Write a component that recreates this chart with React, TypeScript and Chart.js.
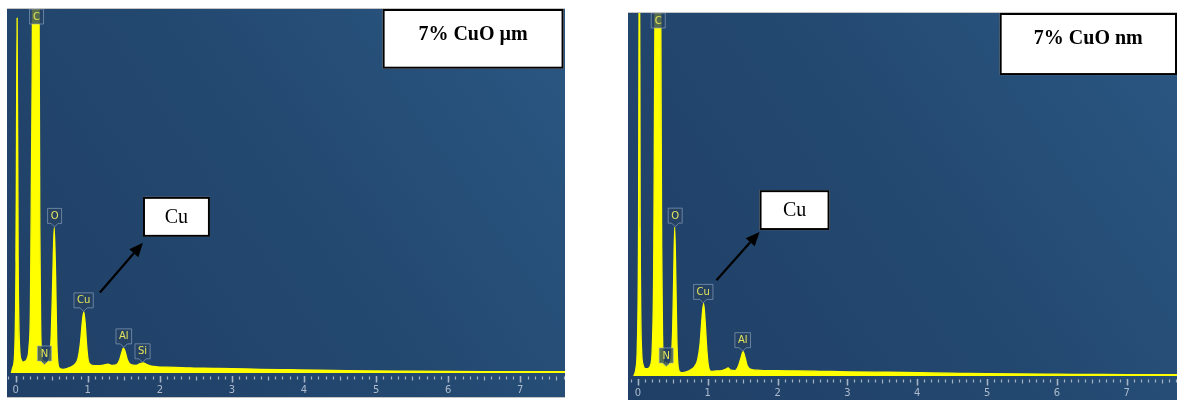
import { useEffect, useRef } from "react";
import { Chart, registerables } from "chart.js";

Chart.register(...registerables);

// ---- EDS spectrum, 7% CuO (micro-sized filler) ----
// energy in keV, intensity in relative counts (100 = full scale)
const energyMicro = [
  -0.06, -0.04, -0.015, 0.005, 0.02, 0.035, 0.055, 0.08, 0.1, 0.13, 0.16, 0.185, 0.205, 0.225,
  0.24, 0.28, 0.32, 0.335, 0.348, 0.362, 0.38, 0.39, 0.4, 0.41, 0.425, 0.45, 0.475, 0.495, 0.515,
  0.535, 0.555, 0.57, 0.585, 0.61, 0.66, 0.72, 0.78, 0.83, 0.865, 0.9, 0.925, 0.945, 0.965, 0.985,
  1.01, 1.05, 1.12, 1.2, 1.28, 1.34, 1.4, 1.44, 1.47, 1.495, 1.52, 1.55, 1.6, 1.67, 1.73, 1.77,
  1.81, 1.88, 1.96, 2.1, 2.3, 2.6, 3.0, 3.4, 3.8, 4.2, 4.6, 5.0, 5.5, 6.0, 6.5, 7.0, 7.62,
];
const countsMicro = [
  0, 1.5, 5, 30, 97.5, 30, 7, 3.5, 3, 3.2, 4, 7, 18, 70,
  130, 600, 130, 40, 12, 4.5, 2.2, 3.4, 2.0, 3.2, 2.6, 3.2, 5, 11, 26,
  40, 26, 9, 3, 1.3, 1.0, 1.3, 1.8, 2.6, 4, 8.5, 14, 16.8, 13.5, 7.5,
  3.2, 2.2, 2.0, 2.1, 2.4, 2.1, 2.3, 3.5, 5.5, 6.9, 5.8, 3.6, 2.3, 2.1, 2.6, 2.8,
  2.4, 1.9, 1.7, 1.6, 1.5, 1.3, 1.2, 1.0, 0.9, 0.8, 0.65, 0.55, 0.5, 0.45, 0.4, 0.35, 0.35,
];
const peakNamesMicro = ["C", "N", "O", "Cu", "Al", "Si"];
const peakEnergyMicro = [0.29, 0.4, 0.54, 0.943, 1.5, 1.76];
const peakCountsMicro = [600, 2.2, 40, 16.8, 6.9, 2.8];

// ---- EDS spectrum, 7% CuO (nano-sized filler) ----
const energyNano = [
  -0.06, -0.03, -0.01, 0.008, 0.02, 0.032, 0.05, 0.075, 0.1, 0.14, 0.18, 0.205, 0.225, 0.245,
  0.287, 0.325, 0.34, 0.352, 0.365, 0.38, 0.393, 0.405, 0.418, 0.432, 0.455, 0.48, 0.497, 0.512,
  0.526, 0.542, 0.557, 0.572, 0.6, 0.64, 0.7, 0.76, 0.81, 0.855, 0.89, 0.915, 0.94, 0.962, 0.985,
  1.01, 1.05, 1.12, 1.2, 1.26, 1.29, 1.33, 1.39, 1.44, 1.475, 1.505, 1.535, 1.565, 1.62, 1.7, 1.8,
  2.0, 2.3, 2.6, 3.0, 3.4, 3.8, 4.2, 4.6, 5.0, 5.5, 6.0, 6.5, 7.0, 7.72,
];
const countsNano = [
  0, 2, 8, 40, 130, 40, 8, 3, 2, 2, 3, 8, 30, 110,
  600, 110, 35, 11, 4, 2.6, 3.8, 2.2, 3.6, 2.8, 3.5, 6, 13, 28,
  41, 27, 10, 3.2, 1.1, 0.9, 1.2, 1.8, 2.6, 4.5, 9, 15.5, 20, 15, 7.5,
  2.6, 1.3, 1.4, 1.5, 1.9, 2.2, 1.6, 1.5, 2.8, 5, 6.7, 5, 2.8, 1.8, 1.6, 1.5,
  1.45, 1.4, 1.3, 1.15, 1.05, 1.0, 0.85, 0.75, 0.65, 0.55, 0.5, 0.45, 0.4, 0.35,
];
const peakNamesNano = ["C", "N", "O", "Cu", "Al"];
const peakEnergyNano = [0.29, 0.404, 0.533, 0.935, 1.5];
const peakCountsNano = [600, 2.5, 41, 20, 6.7];

// energy axis labels (keV)
const energyTicks = [0, 1, 2, 3, 4, 5, 6, 7];

const SERIF = "'Liberation Serif', 'Times New Roman', serif";
const SANS = "'DejaVu Sans', Verdana, sans-serif";

type Box = { x0: number; x1: number; y0: number; y1: number };
type Notes = {
  title: string;
  titleBox: Box;
  calloutBox: Box;
  callout: string;
  arrowFrom: [number, number];
  arrowTo: [number, number];
};

type PanelProps = {
  energy: number[];
  counts: number[];
  peakNames: string[];
  peakEnergy: number[];
  peakCounts: number[];
  xMin: number;
  xMax: number;
  left: number;
  top: number;
  width: number;
  height: number;
  notes: Notes;
};

function Panel(p: PanelProps) {
  const ref = useRef<HTMLCanvasElement>(null);

  useEffect(() => {
    const canvas = ref.current!;

    const background = {
      id: "background",
      beforeDraw(chart: any) {
        const { ctx, width, height } = chart;
        const g = ctx.createLinearGradient(0, height, width, 0);
        g.addColorStop(0, "#203f66");
        g.addColorStop(0.5, "#234870");
        g.addColorStop(1, "#2a5782");
        ctx.save();
        ctx.fillStyle = g;
        ctx.fillRect(0, 0, width, height);
        ctx.restore();
      },
    };

    // ruler below the spectrum: a mark every 0.1 keV, labels at whole keV
    const ruler = {
      id: "ruler",
      afterDraw(chart: any) {
        const { ctx, chartArea } = chart;
        const xs = chart.scales.x;
        const base = chartArea.bottom;
        ctx.save();
        ctx.strokeStyle = "#a6b3c4";
        for (let i = Math.ceil(p.xMin * 10); i <= Math.floor(p.xMax * 10); i++) {
          const px = Math.round(xs.getPixelForValue(i / 10)) + 0.5;
          const major = i % 10 === 0;
          const half = i % 5 === 0;
          ctx.lineWidth = major ? 1.6 : 1.2;
          ctx.beginPath();
          ctx.moveTo(px, base + (major ? 3 : 3.5));
          ctx.lineTo(px, base + (major ? 9.5 : half ? 7.5 : 6.5));
          ctx.stroke();
        }
        ctx.fillStyle = "#aebbcb";
        ctx.font = `10px ${SANS}`;
        ctx.textAlign = "center";
        ctx.textBaseline = "middle";
        energyTicks.forEach((v) => {
          ctx.fillText(String(v), xs.getPixelForValue(v), base + 17.5);
        });
        ctx.restore();
      },
    };

    // element markers above each identified peak
    const markers = {
      id: "markers",
      afterDatasetsDraw(chart: any) {
        const { ctx, chartArea } = chart;
        const xs = chart.scales.x;
        const ys = chart.scales.y;
        ctx.save();
        ctx.font = `10px ${SANS}`;
        ctx.textAlign = "center";
        ctx.textBaseline = "middle";
        p.peakNames.forEach((name, i) => {
          const cx = xs.getPixelForValue(p.peakEnergy[i]);
          const tip = ys.getPixelForValue(p.peakCounts[i]);
          const h = 15;
          const w = Math.max(14, ctx.measureText(name).width + 6);
          let bottom = tip - 4;
          let pointer = true;
          if (bottom - h < chartArea.top) {
            bottom = chartArea.top + h;
            pointer = false;
          }
          const x0 = cx - w / 2;
          const y0 = bottom - h;
          ctx.fillStyle = "rgba(38,66,100,0.78)";
          ctx.strokeStyle = "rgba(150,172,198,0.6)";
          ctx.lineWidth = 1;
          ctx.beginPath();
          ctx.moveTo(x0, y0);
          ctx.lineTo(x0 + w, y0);
          ctx.lineTo(x0 + w, bottom);
          if (pointer) {
            ctx.lineTo(cx + 3.5, bottom);
            ctx.lineTo(cx, bottom + 3.5);
            ctx.lineTo(cx - 3.5, bottom);
          }
          ctx.lineTo(x0, bottom);
          ctx.closePath();
          ctx.fill();
          ctx.stroke();
          ctx.fillStyle = "#e4e45a";
          ctx.fillText(name, cx, y0 + h / 2 + 0.5);
        });
        ctx.restore();
      },
    };

    // sample title box, "Cu" callout and arrow
    const annotations = {
      id: "annotations",
      afterDraw(chart: any) {
        const { ctx } = chart;
        const xs = chart.scales.x;
        const ys = chart.scales.y;
        const n = p.notes;
        const rect = (b: Box) => {
          const x0 = xs.getPixelForValue(b.x0);
          const x1 = xs.getPixelForValue(b.x1);
          const y0 = ys.getPixelForValue(b.y0);
          const y1 = ys.getPixelForValue(b.y1);
          return { x: x0, y: y0, w: x1 - x0, h: y1 - y0 };
        };
        ctx.save();
        // title
        const t = rect(n.titleBox);
        ctx.fillStyle = "#ffffff";
        ctx.fillRect(t.x, t.y, t.w, t.h);
        ctx.strokeStyle = "#000000";
        ctx.lineWidth = 2;
        ctx.strokeRect(t.x + 1, t.y + 1, t.w - 2, t.h - 2);
        ctx.fillStyle = "#000000";
        ctx.font = `bold 20px ${SERIF}`;
        ctx.textAlign = "center";
        ctx.textBaseline = "middle";
        ctx.fillText(n.title, t.x + t.w / 2, t.y + 26);
        // callout box
        const c = rect(n.calloutBox);
        ctx.fillStyle = "#ffffff";
        ctx.fillRect(c.x, c.y, c.w, c.h);
        ctx.strokeRect(c.x + 1, c.y + 1, c.w - 2, c.h - 2);
        ctx.fillStyle = "#000000";
        ctx.font = `20px ${SERIF}`;
        ctx.fillText(n.callout, c.x + c.w / 2, c.y + c.h / 2 + 1);
        // arrow
        const ax = xs.getPixelForValue(n.arrowFrom[0]);
        const ay = ys.getPixelForValue(n.arrowFrom[1]);
        const bx = xs.getPixelForValue(n.arrowTo[0]);
        const by = ys.getPixelForValue(n.arrowTo[1]);
        const ang = Math.atan2(by - ay, bx - ax);
        const head = 14;
        const hw = 6;
        const sx = bx - head * Math.cos(ang);
        const sy = by - head * Math.sin(ang);
        ctx.lineWidth = 2.2;
        ctx.beginPath();
        ctx.moveTo(ax, ay);
        ctx.lineTo(sx, sy);
        ctx.stroke();
        ctx.beginPath();
        ctx.moveTo(bx, by);
        ctx.lineTo(sx + hw * Math.sin(ang), sy - hw * Math.cos(ang));
        ctx.lineTo(sx - hw * Math.sin(ang), sy + hw * Math.cos(ang));
        ctx.closePath();
        ctx.fill();
        ctx.restore();
      },
    };

    const chart = new Chart(canvas, {
      type: "line",
      data: {
        datasets: [
          {
            data: p.energy.map((e, i) => ({ x: e, y: p.counts[i] })),
            borderColor: "#ffff00",
            backgroundColor: "#ffff00",
            borderWidth: 1.3,
            fill: "origin",
            pointRadius: 0,
            cubicInterpolationMode: "monotone",
            clip: 0,
          },
        ],
      },
      options: {
        animation: false,
        responsive: false,
        events: [],
        layout: { padding: 0 },
        plugins: { legend: { display: false }, tooltip: { enabled: false } },
        scales: {
          x: {
            type: "linear",
            min: p.xMin,
            max: p.xMax,
            afterFit: (s: any) => {
              s.height = 24;
              s.paddingLeft = 0;
              s.paddingRight = 0;
            },
            grid: { display: false, drawTicks: false },
            border: { display: false },
            ticks: { display: false },
          },
          y: { display: false, min: 0, max: 100 },
        },
      },
      plugins: [background, markers, ruler, annotations],
    });
    return () => chart.destroy();
  }, []);

  return (
    <canvas
      ref={ref}
      width={p.width}
      height={p.height}
      style={{ position: "absolute", left: p.left, top: p.top, width: p.width, height: p.height }}
    />
  );
}

export default function App() {
  return (
    <div
      style={{
        position: "absolute",
        left: 0,
        top: 0,
        width: 1179,
        height: 401,
        background: "#ffffff",
        overflow: "hidden",
      }}
    >
      <div style={{ position: "absolute", left: 7, top: 8, width: 558, height: 1, background: "#c4c4c4" }} />
      <div style={{ position: "absolute", left: 7, top: 397, width: 558, height: 1, background: "#c4c4c4" }} />
      <div style={{ position: "absolute", left: 628, top: 12, width: 549, height: 1, background: "#c4c4c4" }} />
      <Panel
        energy={energyMicro}
        counts={countsMicro}
        peakNames={peakNamesMicro}
        peakEnergy={peakEnergyMicro}
        peakCounts={peakCountsMicro}
        xMin={-0.12}
        xMax={7.62}
        left={7}
        top={9}
        width={558}
        height={388}
        notes={{
          title: "7% CuO µm",
          titleBox: { x0: 5.09, x1: 7.6, y0: 100, y1: 83.6 },
          callout: "Cu",
          calloutBox: { x0: 1.766, x1: 2.695, y0: 48.4, y1: 37.4 },
          arrowFrom: [1.169, 22.1],
          arrowTo: [1.766, 35.8],
        }}
      />
      <Panel
        energy={energyNano}
        counts={countsNano}
        peakNames={peakNamesNano}
        peakEnergy={peakEnergyNano}
        peakCounts={peakCountsNano}
        xMin={-0.143}
        xMax={7.72}
        left={628}
        top={13}
        width={549}
        height={387}
        notes={{
          title: "7% CuO nm",
          titleBox: { x0: 5.18, x1: 7.72, y0: 100, y1: 82.9 },
          callout: "Cu",
          calloutBox: { x0: 1.741, x1: 2.744, y0: 51.2, y1: 40.2 },
          arrowFrom: [1.124, 26.4],
          arrowTo: [1.741, 39.7],
        }}
      />
    </div>
  );
}
